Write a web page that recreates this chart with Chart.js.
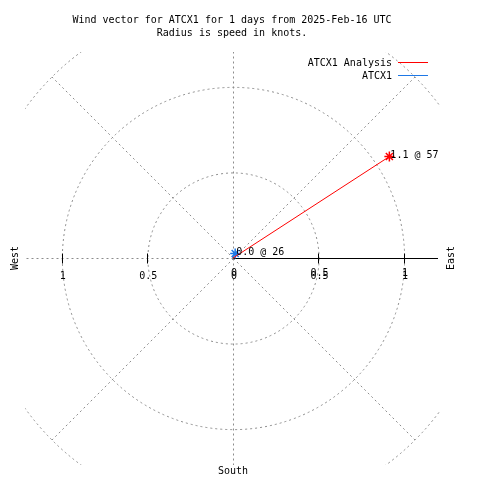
<!DOCTYPE html>
<html>
<head>
<meta charset="utf-8">
<script src="https://cdn.jsdelivr.net/npm/chart.js@4"></script>
<style>
html, body { margin: 0; padding: 0; background: #fff; }
</style>
</head>
<body>
<canvas id="windChart" width="480" height="480"></canvas>
<script>
// Chart data
const titleLines = ['Wind vector for ATCX1 for 1 days from 2025-Feb-16 UTC', 'Radius is speed in knots.'];
const seriesNames = ['ATCX1 Analysis', 'ATCX1'];
const seriesColors = ['#ff0000', '#1e78e6'];
const speeds = [1.09, 0.03];
const speedLabels = ['1.1', '0.0'];
const directions = [57, 26];
const ringValues = [0.5, 1, 1.5];
const tickValues = [-1, -0.5, 0, 0.5, 1];
const tickLabels = ['1', '0.5', '0', '0.5', '1'];
const compassLabels = ['West', 'East', 'South'];

const FONT = '10px "DejaVu Sans Mono", monospace';
const GRID = '#8c8c8c';

// vector end point (direction clockwise from north)
function vectorPoint(speed, dir) {
    const rad = dir * Math.PI / 180;
    return { x: speed * Math.sin(rad), y: speed * Math.cos(rad) };
}

// Dashed rings and spokes
const polarGrid = {
    id: 'polarGrid',
    beforeDatasetsDraw(chart) {
        const { ctx, chartArea: a, scales: { x, y } } = chart;
        const cx = Math.round(x.getPixelForValue(0)) + 0.5;
        const cy = Math.round(y.getPixelForValue(0)) + 0.5;
        const unit = x.getPixelForValue(1) - x.getPixelForValue(0);
        ctx.save();
        ctx.beginPath();
        ctx.rect(a.left, a.top, a.right - a.left, a.bottom - a.top);
        ctx.clip();
        ctx.strokeStyle = GRID;
        ctx.lineWidth = 1;
        ctx.setLineDash([2, 3]);
        ringValues.forEach(r => {
            ctx.beginPath();
            ctx.arc(cx, cy, r * unit, 0, 2 * Math.PI);
            ctx.stroke();
        });
        const rMax = ringValues[ringValues.length - 1];
        for (let k = 1; k < 8; k++) {
            const p = vectorPoint(rMax, 90 + k * 45);
            ctx.beginPath();
            ctx.moveTo(cx, cy);
            ctx.lineTo(cx + p.x * unit, cy - p.y * unit);
            ctx.stroke();
        }
        ctx.restore();

        // solid east axis with ticks
        ctx.save();
        ctx.strokeStyle = '#000';
        ctx.lineWidth = 1;
        ctx.beginPath();
        ctx.moveTo(cx, cy);
        ctx.lineTo(a.right - 2, cy);
        ctx.stroke();
        tickValues.forEach(v => {
            if (v === 0) return;
            const tx = Math.round(x.getPixelForValue(v)) + 0.5;
            ctx.beginPath();
            ctx.moveTo(tx, cy - 5);
            ctx.lineTo(tx, cy + 5);
            ctx.stroke();
        });
        ctx.restore();
    },
    afterDraw(chart) {
        const { ctx, scales: { x, y } } = chart;
        const cx = x.getPixelForValue(0);
        const cy = y.getPixelForValue(0);
        ctx.save();
        ctx.font = FONT;
        ctx.fillStyle = '#000';

        // title
        ctx.textAlign = 'center';
        ctx.textBaseline = 'middle';
        ctx.fillText(titleLines[0], 232, 20);
        ctx.fillText(titleLines[1], 232, 33);

        // tick labels (east side printed twice, as in the source plot)
        tickValues.forEach((v, i) => {
            const tx = x.getPixelForValue(v) + 1;
            ctx.fillText(tickLabels[i], tx, cy + 18);
            if (v >= 0) ctx.fillText(tickLabels[i], tx, cy + 15);
        });

        // compass labels
        ctx.fillText(compassLabels[2], cx, 471);
        ctx.save();
        ctx.translate(15, cy);
        ctx.rotate(-Math.PI / 2);
        ctx.fillText(compassLabels[0], 0, 0);
        ctx.restore();
        ctx.save();
        ctx.translate(451, cy);
        ctx.rotate(-Math.PI / 2);
        ctx.fillText(compassLabels[1], 0, 0);
        ctx.restore();

        // legend
        ctx.textAlign = 'right';
        seriesNames.forEach((name, i) => {
            const ly = 63 + i * 13;
            ctx.fillStyle = '#000';
            ctx.fillText(name, 392, ly);
            ctx.strokeStyle = seriesColors[i];
            ctx.lineWidth = 1;
            ctx.beginPath();
            ctx.moveTo(398, Math.round(ly) - 0.5);
            ctx.lineTo(428, Math.round(ly) - 0.5);
            ctx.stroke();
        });

        // vector labels
        ctx.textAlign = 'left';
        ctx.fillStyle = '#000';
        chart.data.datasets.forEach((ds, i) => {
            const pt = chart.getDatasetMeta(i).data[1];
            ctx.fillText(speedLabels[i] + ' @ ' + directions[i], pt.x + 1, pt.y - 1);
        });
        ctx.restore();
    }
};

const datasets = seriesNames.map((name, i) => {
    const end = vectorPoint(speeds[i], directions[i]);
    return {
        label: name,
        data: [{ x: 0, y: 0 }, end],
        showLine: true,
        borderColor: seriesColors[i],
        backgroundColor: seriesColors[i],
        borderWidth: 1,
        pointStyle: 'star',
        pointRadius: [0, 5],
        pointBorderColor: seriesColors[i],
        pointBorderWidth: 1.5
    };
});

const ctx = document.getElementById('windChart');
new Chart(ctx, {
    type: 'scatter',
    data: { datasets },
    options: {
        responsive: false,
        animation: false,
        events: [],
        layout: { padding: { left: 25, right: 40, top: 52, bottom: 15 } },
        scales: {
            x: { type: 'linear', min: -1.215, max: 1.21, display: false },
            y: { type: 'linear', min: -1.21, max: 1.205, display: false }
        },
        plugins: {
            legend: { display: false },
            tooltip: { enabled: false }
        }
    },
    plugins: [polarGrid]
});
</script>
</body>
</html>
